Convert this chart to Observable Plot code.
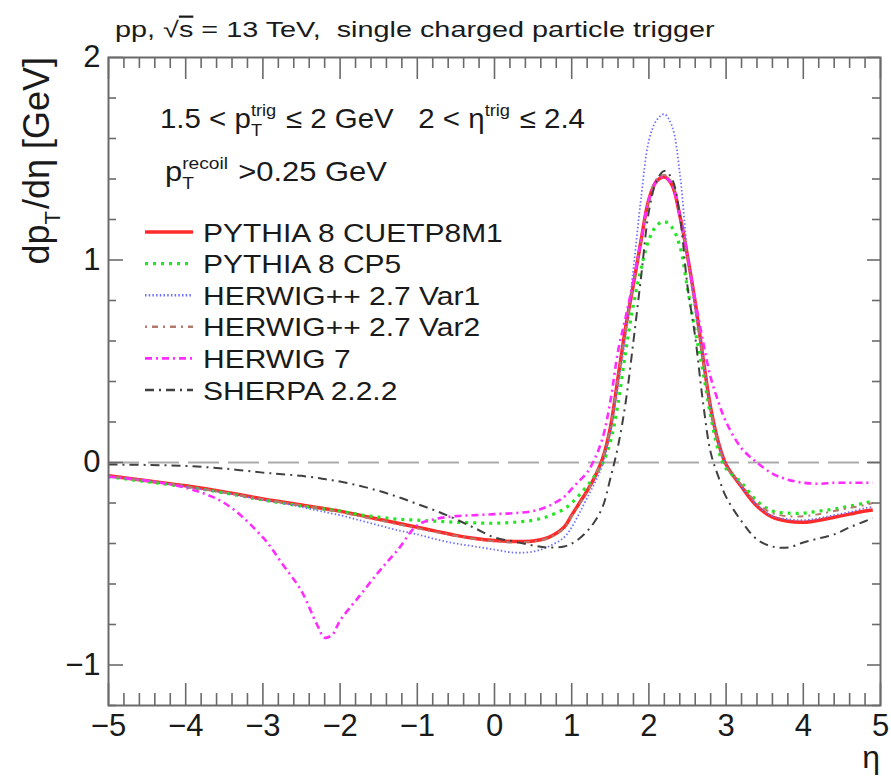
<!DOCTYPE html>
<html><head><meta charset="utf-8">
<script src="https://cdn.jsdelivr.net/npm/d3@7"></script>
<script src="https://cdn.jsdelivr.net/npm/@observablehq/plot@0.6"></script>
<style>body{margin:0;background:#fff}svg{display:block}</style>
</head><body><div id="chart"></div>
<script>
// ---- data ----
const eta = [-5, -4.5, -4, -3.5, -3, -2.75, -2.5, -2.3, -2.2, -2.1, -2, -1.75, -1.5, -1.25, -1, -0.75, -0.5, -0.25, 0, 0.25, 0.5, 0.7, 0.9, 1.0, 1.1, 1.2, 1.3, 1.4, 1.5, 1.6, 1.7, 1.8, 1.9, 2.0, 2.1, 2.2, 2.3, 2.4, 2.5, 2.6, 2.7, 2.8, 2.9, 3.0, 3.2, 3.4, 3.6, 3.8, 4.0, 4.2, 4.4, 4.6, 4.8, 4.9];
const pythiaCUETP8M1 = [-0.065, -0.09, -0.115, -0.145, -0.18, -0.195, -0.21, -0.222, -0.228, -0.234, -0.24, -0.26, -0.28, -0.30, -0.32, -0.34, -0.36, -0.375, -0.385, -0.39, -0.388, -0.37, -0.32, -0.26, -0.2, -0.14, -0.07, 0.02, 0.17, 0.42, 0.67, 0.88, 1.1, 1.3, 1.39, 1.41, 1.37, 1.22, 1.02, 0.79, 0.52, 0.27, 0.1, -0.01, -0.12, -0.215, -0.27, -0.29, -0.295, -0.285, -0.27, -0.255, -0.24, -0.235];
const pythiaCP5 = [-0.07, -0.095, -0.12, -0.15, -0.185, -0.2, -0.215, -0.225, -0.23, -0.235, -0.24, -0.258, -0.27, -0.28, -0.285, -0.29, -0.295, -0.298, -0.3, -0.295, -0.285, -0.265, -0.23, -0.2, -0.16, -0.115, -0.065, -0.005, 0.1, 0.29, 0.55, 0.78, 0.96, 1.1, 1.17, 1.19, 1.16, 1.07, 0.86, 0.65, 0.45, 0.23, 0.06, -0.03, -0.1, -0.19, -0.24, -0.25, -0.25, -0.24, -0.23, -0.215, -0.2, -0.19];
const herwigVar1 = [-0.07, -0.09, -0.12, -0.15, -0.185, -0.2, -0.22, -0.236, -0.244, -0.252, -0.26, -0.285, -0.31, -0.335, -0.355, -0.38, -0.40, -0.415, -0.43, -0.445, -0.44, -0.415, -0.37, -0.32, -0.25, -0.175, -0.1, -0.01, 0.15, 0.38, 0.63, 0.96, 1.31, 1.59, 1.69, 1.72, 1.66, 1.43, 1.03, 0.75, 0.52, 0.27, 0.1, -0.01, -0.12, -0.21, -0.265, -0.28, -0.285, -0.275, -0.26, -0.245, -0.225, -0.22];
const herwigVar2 = [-0.068, -0.092, -0.118, -0.148, -0.182, -0.197, -0.212, -0.225, -0.232, -0.238, -0.245, -0.265, -0.285, -0.305, -0.325, -0.345, -0.362, -0.378, -0.39, -0.395, -0.39, -0.372, -0.325, -0.265, -0.205, -0.145, -0.07, 0.02, 0.17, 0.42, 0.66, 0.88, 1.1, 1.3, 1.4, 1.42, 1.38, 1.22, 1.01, 0.78, 0.51, 0.26, 0.09, -0.02, -0.11, -0.2, -0.25, -0.265, -0.265, -0.255, -0.24, -0.225, -0.21, -0.2];
const herwig7 = [-0.07, -0.09, -0.125, -0.2, -0.37, -0.5, -0.635, -0.8, -0.865, -0.85, -0.78, -0.66, -0.54, -0.43, -0.31, -0.278, -0.265, -0.26, -0.255, -0.25, -0.24, -0.215, -0.17, -0.13, -0.09, -0.05, 0.02, 0.12, 0.3, 0.55, 0.72, 0.9, 1.1, 1.3, 1.39, 1.41, 1.37, 1.22, 1.02, 0.8, 0.6, 0.42, 0.3, 0.2, 0.07, 0.0, -0.055, -0.085, -0.1, -0.105, -0.1, -0.1, -0.1, -0.1];
const sherpa = [-0.01, -0.012, -0.017, -0.03, -0.05, -0.058, -0.066, -0.076, -0.082, -0.088, -0.094, -0.115, -0.14, -0.17, -0.205, -0.24, -0.28, -0.325, -0.37, -0.39, -0.41, -0.42, -0.415, -0.4, -0.375, -0.34, -0.29, -0.22, -0.08, 0.08, 0.3, 0.6, 0.92, 1.24, 1.39, 1.44, 1.4, 1.22, 0.87, 0.62, 0.3, 0.05, -0.07, -0.17, -0.29, -0.38, -0.415, -0.42, -0.395, -0.375, -0.355, -0.32, -0.29, -0.275];
const seriesNames = ["PYTHIA 8 CUETP8M1", "PYTHIA 8 CP5", "HERWIG++ 2.7 Var1", "HERWIG++ 2.7 Var2", "HERWIG 7", "SHERPA 2.2.2"];
const xTickValues = [-5, -4, -3, -2, -1, 0, 1, 2, 3, 4, 5];
const yTickValues = [-1, 0, 1, 2];
const referenceLevel = [0];

// ---- styles ----
const seriesValues = [pythiaCUETP8M1, pythiaCP5, herwigVar1, herwigVar2, herwig7, sherpa];
const styles = [
  {stroke: "#ff2a2a", strokeWidth: 3.5, dash: null},
  {stroke: "#22e622", strokeWidth: 3.2, dash: "3,5"},
  {stroke: "#6f6fff", strokeWidth: 1.8, dash: "1.5,2.2"},
  {stroke: "#b47a6c", strokeWidth: 2, dash: "2,5,6,5"},
  {stroke: "#ff2bff", strokeWidth: 2.6, dash: "7,4,2,4"},
  {stroke: "#404040", strokeWidth: 2, dash: "9,5,2,5"}
];
const W = 891, H = 778, mL = 108, mR = 11, mT = 57, mB = 73;
const innerW = W - mL - mR, innerH = H - mT - mB;
const axisColor = "#6a6a6a";
const font = "'Liberation Sans', Arial, Helvetica, sans-serif";
const fmt = d => d < 0 ? "\u2212" + Math.abs(d) : String(d);

const xMinor = d3.range(-50, 51, 2).map(v => v / 10).filter(v => !xTickValues.includes(v));
const yMinor = d3.range(-12, 21, 2).map(v => v / 10).filter(v => !yTickValues.includes(v));

const rows = seriesNames.flatMap((name, i) => eta.map((x, j) => ({name, x, y: seriesValues[i][j]})));

const lineMarks = seriesNames.map((name, i) => Plot.line(rows.filter(r => r.name === name), {
  x: "x", y: "y", curve: "catmull-rom",
  stroke: styles[i].stroke, strokeWidth: styles[i].strokeWidth,
  strokeDasharray: styles[i].dash, strokeLinecap: "butt"
}));

const chart = Plot.plot({
  width: W, height: H,
  marginLeft: mL, marginRight: mR, marginTop: mT, marginBottom: mB,
  style: {fontFamily: font, background: "#fff", color: "#222"},
  x: {domain: [-5, 5]},
  y: {domain: [-1.2, 2]},
  marks: [
    Plot.ruleY(referenceLevel, {stroke: "#ababab", strokeWidth: 2, strokeDasharray: "31,9"}),
    ...lineMarks,
    Plot.tickX(xTickValues, {x: d => d, insetTop: innerH - 22, stroke: axisColor, strokeWidth: 1.6}),
    Plot.tickX(xMinor, {x: d => d, insetTop: innerH - 12, stroke: axisColor, strokeWidth: 1.6}),
    Plot.tickX(xTickValues, {x: d => d, insetBottom: innerH - 22, stroke: axisColor, strokeWidth: 1.6}),
    Plot.tickX(xMinor, {x: d => d, insetBottom: innerH - 11, stroke: axisColor, strokeWidth: 1.6}),
    Plot.tickY(yTickValues, {y: d => d, insetRight: innerW - 15, stroke: axisColor, strokeWidth: 1.6}),
    Plot.tickY(yMinor, {y: d => d, insetRight: innerW - 8, stroke: axisColor, strokeWidth: 1.6}),
    Plot.tickY(yTickValues, {y: d => d, insetLeft: innerW - 13, stroke: axisColor, strokeWidth: 1.6}),
    Plot.tickY(yMinor, {y: d => d, insetLeft: innerW - 8, stroke: axisColor, strokeWidth: 1.6}),
    Plot.frame({stroke: axisColor, strokeWidth: 2}),
    Plot.axisX(xTickValues, {anchor: "bottom", tickSize: 0, tickPadding: 8, tickFormat: fmt, fontSize: 31, label: null, fill: "#1a1a1a"}),
    Plot.axisY(yTickValues, {anchor: "left", tickSize: 0, tickPadding: 8, tickFormat: fmt, fontSize: 31, label: null, fill: "#1a1a1a"})
  ]
});
document.getElementById("chart").appendChild(chart);

// ---- rich text helpers ----
const svg = d3.select(chart);
const ann = svg.append("g").attr("font-family", font).attr("fill", "#1a1a1a")
  .attr("text-anchor", "start").style("white-space", "pre");

function rich(parent, segments, size) {
  const g = parent.append("g").attr("text-anchor", "start");
  let cx = 0;
  for (const s of segments) {
    if (typeof s === "string" || s.over) {
      const t = g.append("text").attr("x", cx).attr("y", 0).attr("font-size", size)
        .attr("text-anchor", "start").style("white-space", "pre")
        .text(typeof s === "string" ? s : s.over);
      if (s.over) t.attr("text-decoration", "overline");
      cx += t.node().getComputedTextLength();
    } else {
      let w = 0;
      const small = size * 0.62;
      if (s.sup) { const t = g.append("text").attr("x", cx).attr("y", -size * 0.42).attr("font-size", small).attr("text-anchor", "start").text(s.sup); w = Math.max(w, t.node().getComputedTextLength()); }
      if (s.sub) { const t = g.append("text").attr("x", cx).attr("y", size * 0.3).attr("font-size", small).attr("text-anchor", "start").text(s.sub); w = Math.max(w, t.node().getComputedTextLength()); }
      cx += w + size * 0.05;
    }
  }
  return {g, width: cx};
}
function place(parent, segments, size, x, y, targetWidth) {
  const r = rich(parent, segments, size);
  const sx = targetWidth ? targetWidth / r.width : 1;
  r.g.attr("transform", `translate(${x},${y}) scale(${sx},1)`);
  return sx;
}

// title
place(ann, ["pp, ", "\u221A", {over: "s"}, " = 13 TeV,  single charged particle trigger"], 22, 115, 37, 600);
// selection annotations
place(ann, ["1.5 < p", {sup: "trig", sub: "T"}, " \u2264 2 GeV   2 < \u03B7", {sup: "trig"}, " \u2264 2.4"], 28, 160, 128, 425);
place(ann, ["p", {sup: "recoil", sub: "T"}, " >0.25 GeV"], 28, 165, 181, 222);

// y-axis title (rotated)
{
  const r = rich(ann, ["dp", {sub: "T"}, "/d\u03B7 [GeV]"], 36);
  r.g.attr("transform", `translate(49,57) rotate(-90) translate(${-r.width},0)`);
}
// x-axis title
ann.append("text").attr("x", 880).attr("y", 768).attr("text-anchor", "end").attr("font-size", 32).text("\u03B7");

// legend
const legend = svg.append("g").attr("font-family", font).attr("fill", "#1a1a1a").attr("text-anchor", "start");
let legendScale = null;
seriesNames.forEach((name, i) => {
  const cy = 232 + i * 31.6;
  legend.append("line").attr("x1", 145).attr("x2", 193).attr("y1", cy).attr("y2", cy)
    .attr("stroke", styles[i].stroke).attr("stroke-width", Math.max(styles[i].strokeWidth, 2.4))
    .attr("stroke-dasharray", styles[i].dash);
  const r = rich(legend, [name], 26);
  if (legendScale === null) legendScale = 300 / r.width;
  r.g.attr("transform", `translate(203,${cy + 9.5}) scale(${legendScale},1)`);
});
</script></body></html>
